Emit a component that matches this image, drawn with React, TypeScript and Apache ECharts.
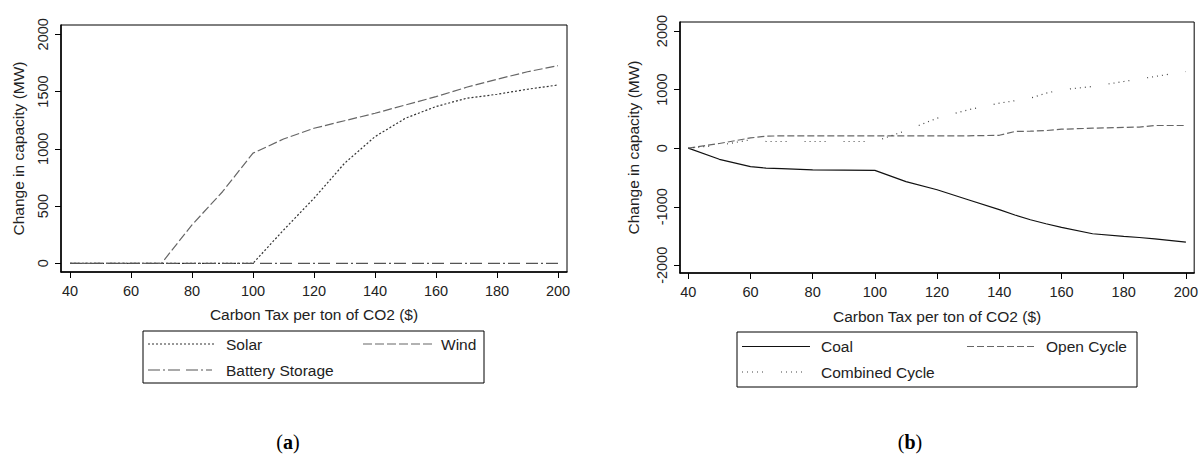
import React, { useEffect, useRef } from "react";
import * as echarts from "echarts";

// ---------- Data ----------
const xTicks = [40, 60, 80, 100, 120, 140, 160, 180, 200];
const yTicksA = [0, 500, 1000, 1500, 2000];
const yTicksB = [-2000, -1000, 0, 1000, 2000];

const taxA = [40, 50, 60, 70, 80, 90, 100, 110, 120, 130, 140, 150, 160, 170, 180, 190, 200];
const solar = [0, 0, 0, 0, 0, 0, 0, 290, 568, 873, 1106, 1267, 1369, 1441, 1476, 1520, 1557];
const wind = [0, 0, 0, 0, 335, 625, 962, 1085, 1179, 1245, 1310, 1383, 1455, 1537, 1607, 1673, 1726];
const battery = [0, 0, 0, 0, 0, 0, 0, 0, 0, 0, 0, 0, 0, 0, 0, 0, 0];

const taxB = [40, 50, 60, 65, 70, 80, 90, 100, 110, 120, 130, 140, 145, 150, 155, 160, 170, 180, 185, 190, 200];
const coal = [0, -190, -315, -341, -350, -370, -375, -380, -570, -710, -880, -1050, -1140, -1222, -1290, -1353, -1461, -1507, -1525, -1547, -1604];
const openCycle = [0, 80, 175, 205, 211, 211, 211, 211, 211, 211, 211, 220, 285, 290, 300, 324, 341, 355, 360, 387, 387];
const combinedCycle = [0, 50, 143, 114, 114, 114, 114, 114, 300, 512, 655, 768, 810, 853, 939, 997, 1053, 1138, 1180, 1223, 1309];

const xTitle = "Carbon Tax per ton of CO2 ($)";
const yTitle = "Change in capacity (MW)";

// ---------- Styles ----------
const FONT = "'Liberation Sans', Arial, sans-serif";
const TXT = "#222";

const pairs = (xs: number[], ys: number[]) => xs.map((x, i) => [x, ys[i]]);

function xAxisCfg(gridIndex: number, min: number, max: number, gap: number) {
  return {
    type: "value",
    gridIndex,
    min,
    max,
    name: xTitle,
    nameLocation: "middle",
    nameGap: gap,
    nameTextStyle: { fontFamily: FONT, fontSize: 15.5, color: TXT },
    axisLine: { show: true, onZero: false, lineStyle: { color: "#000", width: 1.5 } },
    axisTick: { show: true, length: 6, customValues: xTicks, lineStyle: { color: "#000", width: 1 } },
    axisLabel: { customValues: xTicks, margin: 11, fontSize: 14.5, color: TXT, fontFamily: FONT, formatter: (v: number) => String(v) },
    splitLine: { show: false },
  };
}

function yAxisCfg(gridIndex: number, min: number, max: number, ticks: number[], gap: number) {
  return {
    type: "value",
    gridIndex,
    min,
    max,
    name: yTitle,
    nameLocation: "middle",
    nameGap: gap,
    nameTextStyle: { fontFamily: FONT, fontSize: 15.5, color: TXT },
    axisLine: { show: true, onZero: false, lineStyle: { color: "#000", width: 1.5 } },
    axisTick: { show: true, length: 6, customValues: ticks, lineStyle: { color: "#000", width: 1 } },
    axisLabel: { customValues: ticks, margin: 11, rotate: 90, fontSize: 14.5, color: TXT, fontFamily: FONT, formatter: (v: number) => String(v) },
    splitLine: { show: false },
  };
}

function lineSeries(name: string, xi: number, data: number[][], color: string, type: any, width = 1.2) {
  return {
    type: "line",
    name,
    xAxisIndex: xi,
    yAxisIndex: xi,
    data,
    symbol: "none",
    lineStyle: { color, width, type },
    silent: true,
  };
}

const DASH_SOLAR = [2, 2];
const DASH_WIND = [9, 3];
const DASH_BATT = [12, 3, 2, 3, 12, 6];
const DASH_OPEN = [7, 3];
const DASH_COMB = [1, 4, 1, 4, 1, 4, 1, 4, 1, 18];

function txt(x: number, y: number, text: string) {
  return {
    type: "text",
    x,
    y,
    style: {
      text,
      fontFamily: FONT,
      fontSize: 15.5,
      fill: TXT,
      align: "left",
      verticalAlign: "middle",
      textAlign: "left",
      textVerticalAlign: "middle",
    },
  };
}
function key(x1: number, x2: number, y: number, color: string, dash: any) {
  return {
    type: "line",
    shape: { x1, y1: y, x2, y2: y },
    style: { stroke: color, lineWidth: 1.2, lineDash: dash },
  };
}
function caption(x: number, letter: string) {
  return {
    type: "text",
    x,
    y: 442,
    style: {
      text: "({b|" + letter + "})",
      fontFamily: "'Liberation Serif', 'DejaVu Serif', serif",
      fontSize: 20,
      fill: "#000",
      align: "center",
      verticalAlign: "middle",
      textAlign: "center",
      textVerticalAlign: "middle",
      rich: { b: { fontWeight: "bold", fontSize: 20, fontFamily: "'Liberation Serif', serif" } },
    },
  };
}

export default function App() {
  const ref = useRef<HTMLDivElement>(null);
  useEffect(() => {
    document.body.style.margin = "0";
    const chart = echarts.init(ref.current!, null, { renderer: "svg" });
    const option: any = {
      animation: false,
      backgroundColor: "#fff",
      grid: [
        { left: 61, top: 25, width: 506, height: 247, show: true, borderColor: "#000", borderWidth: 1, backgroundColor: "transparent" },
        { left: 680, top: 22, width: 515, height: 251, show: true, borderColor: "#000", borderWidth: 1, backgroundColor: "transparent" },
      ],
      xAxis: [xAxisCfg(0, 37.05, 202.95, 34), xAxisCfg(1, 37.34, 202.66, 35)],
      yAxis: [yAxisCfg(0, -76, 2081, yTicksA, 35), yAxisCfg(1, -2131, 2154, yTicksB, 39)],
      series: [
        lineSeries("Solar", 0, pairs(taxA, solar), "#333", DASH_SOLAR),
        lineSeries("Wind", 0, pairs(taxA, wind), "#666", DASH_WIND),
        lineSeries("Battery Storage", 0, pairs(taxA, battery), "#555", DASH_BATT),
        lineSeries("Coal", 1, pairs(taxB, coal), "#111", "solid"),
        lineSeries("Open Cycle", 1, pairs(taxB, openCycle), "#666", DASH_OPEN),
        lineSeries("Combined Cycle", 1, pairs(taxB, combinedCycle), "#444", DASH_COMB),
      ],
      graphic: [
        // legend (a)
        { type: "rect", shape: { x: 143, y: 331, width: 341, height: 52 }, style: { fill: "none", stroke: "#000", lineWidth: 1 } },
        key(148, 215, 344, "#333", DASH_SOLAR),
        txt(226, 344, "Solar"),
        key(363, 432, 344, "#666", DASH_WIND),
        txt(441, 344, "Wind"),
        key(148, 212, 370, "#555", DASH_BATT),
        txt(226, 370, "Battery Storage"),
        // legend (b)
        { type: "rect", shape: { x: 737, y: 332, width: 400, height: 55 }, style: { fill: "none", stroke: "#000", lineWidth: 1 } },
        key(742, 810, 346.5, "#111", null),
        txt(821, 346.5, "Coal"),
        key(967, 1035, 346.5, "#666", DASH_OPEN),
        txt(1046, 346.5, "Open Cycle"),
        key(742, 810, 372, "#444", DASH_COMB),
        txt(821, 372, "Combined Cycle"),
        // panel captions
        caption(288, "a"),
        caption(910, "b"),
      ],
    };
    chart.setOption(option);
    return () => chart.dispose();
  }, []);
  return <div ref={ref} style={{ width: 1201, height: 455, background: "#fff" }} />;
}
